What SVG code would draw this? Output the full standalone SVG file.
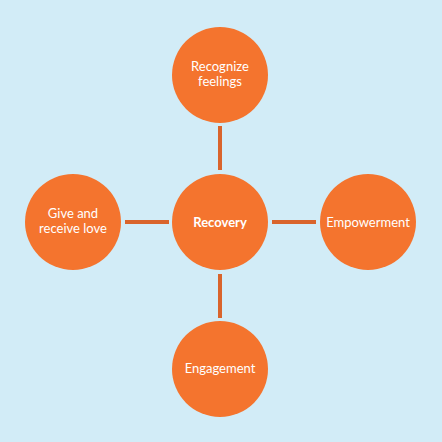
<svg xmlns="http://www.w3.org/2000/svg" width="442" height="442" viewBox="0 0 442 442">
<style>
.node{fill:#f4742e;}
.lbl{fill:#ffffff;font-family:Lato,"Open Sans","Liberation Sans",sans-serif;font-size:13px;text-anchor:middle;}
.b{font-weight:bold;font-size:13px;}
.conn{stroke:#d9642c;stroke-width:4;fill:none;}
</style>
<rect width="442" height="442" fill="#d2ecf7"/>
<g id="connectors">
<line class="conn" x1="220" y1="126" x2="220" y2="170"/>
<line class="conn" x1="125" y1="222" x2="169" y2="222"/>
<line class="conn" x1="272" y1="222" x2="316" y2="222"/>
<line class="conn" x1="220" y1="274" x2="220" y2="318"/>
</g>
<g id="recovery">
<circle class="node" cx="220" cy="222" r="48"/>
<text class="lbl b" x="220" y="227">Recovery</text>
</g>
<g id="recognize">
<circle class="node" cx="220" cy="75" r="48"/>
<text class="lbl" x="220" y="71">Recognize</text>
<text class="lbl" x="220" y="86">feelings</text>
</g>
<g id="give">
<circle class="node" cx="73" cy="222" r="48"/>
<text class="lbl" x="73" y="218">Give and</text>
<text class="lbl" x="73" y="233">receive love</text>
</g>
<g id="empowerment">
<circle class="node" cx="368" cy="222" r="48"/>
<text class="lbl" x="368" y="227">Empowerment</text>
</g>
<g id="engagement">
<circle class="node" cx="220" cy="369" r="48"/>
<text class="lbl" x="220" y="373">Engagement</text>
</g>
</svg>
